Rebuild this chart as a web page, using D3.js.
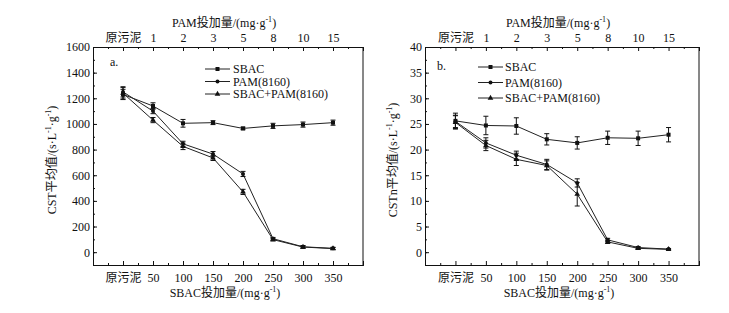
<!DOCTYPE html>
<html>
<head>
<meta charset="utf-8">
<script src="https://cdn.jsdelivr.net/npm/d3@7"></script>
<style>
body { margin: 0; background: #fff; }
text { font-family: "Liberation Serif", "Noto Sans CJK SC", serif; fill: #111; }
</style>
</head>
<body>
<div id="chart"></div>
<script>
const width = 729
const height = 313
const fontFam = "'Liberation Serif', 'Noto Sans CJK SC', serif"

// categorias
const sbacCategories = ["原污泥", "50", "100", "150", "200", "250", "300", "350"]
const pamCategories = ["原污泥", "1", "2", "3", "5", "8", "10", "15"]
const seriesNames = ["SBAC", "PAM(8160)", "SBAC+PAM(8160)"]

// panel a: CST
const cstSBAC = [1230, 1140, 1005, 1010, 965, 985, 995, 1010]
const cstSBACErr = [40, 25, 30, 15, 10, 20, 20, 20]
const cstPAM = [1250, 1100, 845, 765, 610, 105, 42, 30]
const cstPAMErr = [40, 20, 20, 20, 20, 10, 10, 8]
const cstMix = [1240, 1030, 825, 735, 470, 98, 40, 28]
const cstMixErr = [45, 20, 25, 20, 20, 10, 8, 8]
const cstTicks = [0, 200, 400, 600, 800, 1000, 1200, 1400, 1600]

// panel b: CSTn
const cstnSBAC = [25.6, 24.7, 24.6, 22.0, 21.3, 22.3, 22.2, 22.9]
const cstnSBACErr = [1.5, 1.8, 1.6, 1.1, 1.2, 1.3, 1.4, 1.4]
const cstnPAM = [25.5, 21.3, 18.9, 17.1, 13.5, 2.4, 0.9, 0.6]
const cstnPAMErr = [1.2, 1.0, 0.8, 1.0, 0.8, 0.3, 0.2, 0.1]
const cstnMix = [25.3, 20.8, 18.1, 16.9, 11.3, 2.0, 0.75, 0.55]
const cstnMixErr = [1.3, 1.0, 1.2, 0.9, 2.3, 0.3, 0.2, 0.1]
const cstnTicks = [0, 5, 10, 15, 20, 25, 30, 35, 40]

const svg = d3.select("#chart").append("svg").attr("width", width).attr("height", height)

const panels = [
    {
        left: 93, right: 363, top: 47, bottom: 265,
        yDomain: [-100, 1600], yTicks: cstTicks, yMinor: d3.range(-100, 1601, 100),
        series: [[cstSBAC, cstSBACErr], [cstPAM, cstPAMErr], [cstMix, cstMixErr]],
        label: "a.", labelPos: [110, 66],
        legend: { x: 112, y: 22, dy: 12.5, textX: 28 },
        yTitle: ["CST平均值/(s·L", "-1", "·g", "-1", ")"], yTitleX: 56
    },
    {
        left: 425, right: 699, top: 47, bottom: 265,
        yDomain: [-2.5, 40], yTicks: cstnTicks, yMinor: d3.range(-2.5, 40.1, 2.5),
        series: [[cstnSBAC, cstnSBACErr], [cstnPAM, cstnPAMErr], [cstnMix, cstnMixErr]],
        label: "b.", labelPos: [437, 70],
        legend: { x: 53, y: 20, dy: 15.5, textX: 27 },
        yTitle: ["CSTn平均值/(s·L", "-1", "·g", "-1", ")"], yTitleX: 397
    }
]

// texto con superindices: partes impares van arriba
function richText(sel, parts) {
    parts.forEach((t, i) => {
        const sp = sel.append("tspan").text(t)
        if (i % 2 === 1) sp.attr("font-size", 8).attr("dy", -5)
        else if (i > 0) sp.attr("font-size", 12).attr("dy", 5)
    })
}

function marker(g, type, cx, cy) {
    if (type === 0) {
        g.append("rect").attr("x", cx - 2).attr("y", cy - 2).attr("width", 4).attr("height", 4).attr("fill", "#111")
    } else if (type === 1) {
        g.append("circle").attr("cx", cx).attr("cy", cy).attr("r", 2).attr("fill", "#111")
    } else {
        g.append("path").attr("d", d3.symbol(d3.symbolTriangle, 14)()).attr("transform", `translate(${cx},${cy})`).attr("fill", "#111")
    }
}

panels.forEach(p => {
    const w = p.right - p.left
    const h = p.bottom - p.top
    const g = svg.append("g").attr("transform", `translate(${p.left},${p.top})`)

    const x = d3.scaleLinear().domain([-1, 8]).range([0, w])
    const y = d3.scaleLinear().domain(p.yDomain).range([h, 0])

    // ejes
    const idx = d3.range(0, 8)
    const minorX = d3.range(-0.5, 8, 1)

    const xBottom = d3.axisBottom(x).tickValues(idx).tickSize(-4).tickPadding(8).tickFormat(i => sbacCategories[i])
    const xBottomMinor = d3.axisBottom(x).tickValues(minorX).tickSize(-2).tickFormat("")
    const xTop = d3.axisTop(x).tickValues(idx).tickSize(-4).tickPadding(5).tickFormat(i => pamCategories[i])
    const xTopMinor = d3.axisTop(x).tickValues(minorX).tickSize(-2).tickFormat("")
    const yLeft = d3.axisLeft(y).tickValues(p.yTicks).tickSize(-4).tickPadding(3).tickFormat(d3.format("d"))
    const yLeftMinor = d3.axisLeft(y).tickValues(p.yMinor).tickSize(-2).tickFormat("")

    g.append("g").attr("transform", `translate(0,${h})`).call(xBottom)
    g.append("g").attr("transform", `translate(0,${h})`).call(xBottomMinor)
    g.append("g").call(xTop)
    g.append("g").call(xTopMinor)
    g.append("g").call(yLeft)
    g.append("g").call(yLeftMinor)
    g.append("line").attr("x1", w).attr("x2", w).attr("y1", 0).attr("y2", h).attr("stroke", "#111")

    g.selectAll("g").attr("font-family", fontFam).attr("font-size", 12)
    g.selectAll(".domain").attr("stroke", "#111")
    g.selectAll(".tick line").attr("stroke", "#111")
    g.selectAll(".tick text").attr("fill", "#111")

    // titulos
    const tb = svg.append("text").attr("x", p.left + w / 2 - 3).attr("y", 297).attr("text-anchor", "middle").attr("font-size", 12)
    richText(tb, ["SBAC投加量/(mg·g", "-1", ")"])
    const tt = svg.append("text").attr("x", p.left + w / 2 - 4).attr("y", 27).attr("text-anchor", "middle").attr("font-size", 12)
    richText(tt, ["PAM投加量/(mg·g", "-1", ")"])
    const ty = svg.append("text").attr("transform", `translate(${p.yTitleX},${p.top + h / 2 + 4}) rotate(-90)`)
        .attr("text-anchor", "middle").attr("font-size", 12)
    richText(ty, p.yTitle)

    svg.append("text").attr("x", p.labelPos[0]).attr("y", p.labelPos[1]).attr("font-size", 12).text(p.label)

    // series
    const line = d3.line().x((d, i) => x(i)).y(d => y(d))
    p.series.forEach(([vals, errs], si) => {
        const sg = g.append("g")
        sg.append("path").datum(vals).attr("d", line).attr("fill", "none").attr("stroke", "#222").attr("stroke-width", 1)
        vals.forEach((v, i) => {
            const cx = x(i)
            const y1 = y(v + errs[i]), y0 = y(v - errs[i])
            sg.append("line").attr("x1", cx).attr("x2", cx).attr("y1", y1).attr("y2", y0).attr("stroke", "#111")
            sg.append("line").attr("x1", cx - 2.5).attr("x2", cx + 2.5).attr("y1", y1).attr("y2", y1).attr("stroke", "#111")
            sg.append("line").attr("x1", cx - 2.5).attr("x2", cx + 2.5).attr("y1", y0).attr("y2", y0).attr("stroke", "#111")
            marker(sg, si, cx, y(v))
        })
    })

    // leyenda
    const lg = g.append("g").attr("transform", `translate(${p.legend.x},${p.legend.y})`)
    seriesNames.forEach((name, i) => {
        const ly = i * p.legend.dy
        lg.append("line").attr("x1", 0).attr("x2", 25).attr("y1", ly).attr("y2", ly).attr("stroke", "#222")
        marker(lg, i, 12.5, ly)
        lg.append("text").attr("x", p.legend.textX).attr("y", ly + 4).attr("font-size", 12).text(name)
    })
})
</script>
</body>
</html>
